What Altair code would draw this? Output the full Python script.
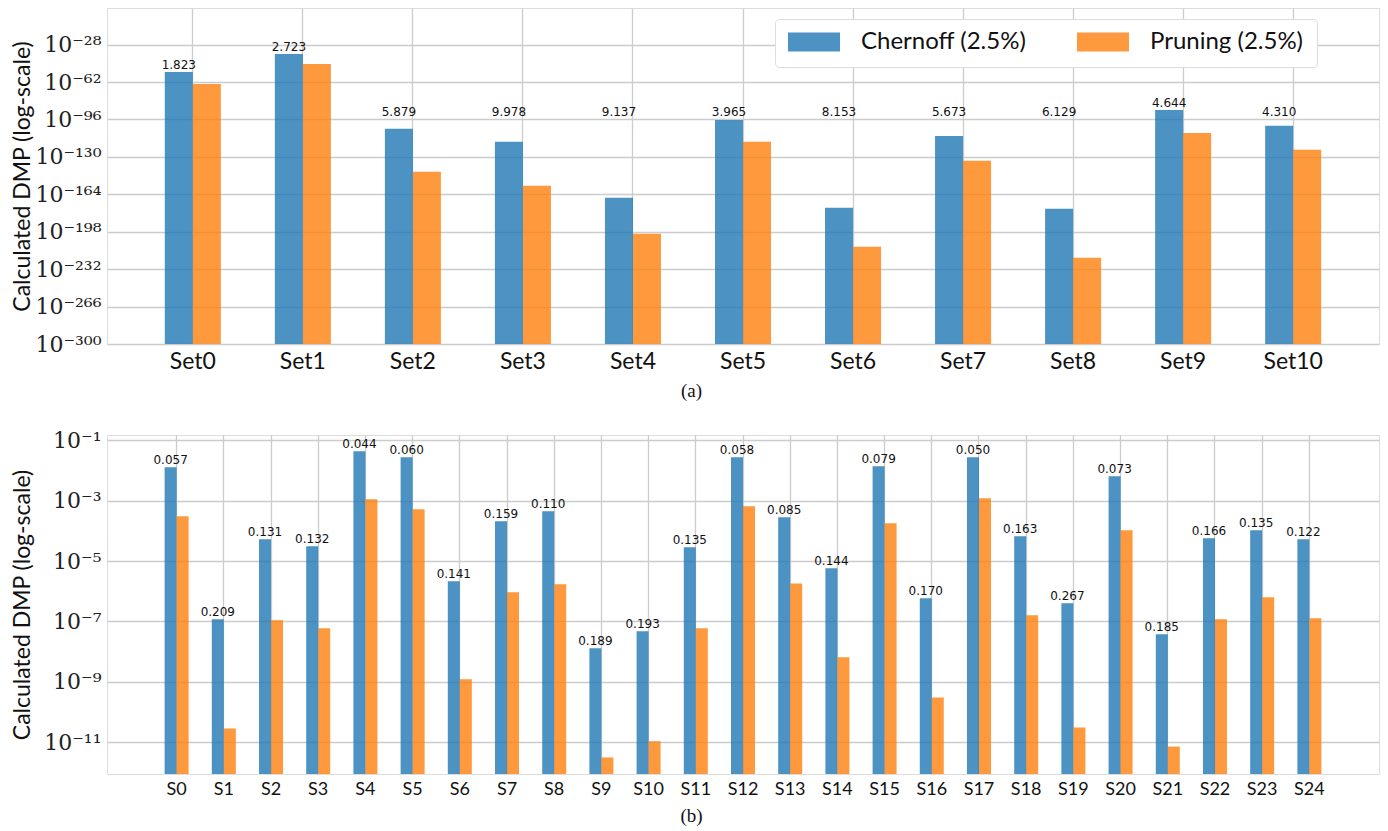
import altair as alt
import pandas as pd

# ---- panel (a): eleven test sets, DMP given as log10 values ----
sets_a = ["Set0", "Set1", "Set2", "Set3", "Set4", "Set5",
          "Set6", "Set7", "Set8", "Set9", "Set10"]
chernoff_a = [-52.8, -36.5, -104.5, -116.3, -167.2, -96.4,
              -176.3, -110.9, -177.2, -87.3, -101.8]
pruning_a = [-63.7, -45.5, -143.6, -156.3, -199.9, -116.3,
             -211.7, -133.6, -221.7, -108.2, -123.6]
ratio_a = ["1.823", "2.723", "5.879", "9.978", "9.137", "3.965",
           "8.153", "5.673", "6.129", "4.644", "4.310"]
ticks_a = [-300, -266, -232, -198, -164, -130, -96, -62, -28]

# ---- panel (b): twenty-five samples ----
sets_b = ["S0", "S1", "S2", "S3", "S4", "S5", "S6", "S7", "S8", "S9",
          "S10", "S11", "S12", "S13", "S14", "S15", "S16", "S17", "S18",
          "S19", "S20", "S21", "S22", "S23", "S24"]
chernoff_b = [-1.886, -6.93, -4.276, -4.508, -1.355, -1.554, -5.67, -3.68,
              -3.35, -7.89, -7.33, -4.54, -1.554, -3.55, -5.24, -1.853,
              -6.23, -1.554, -4.176, -6.40, -2.185, -7.43, -4.243, -3.977,
              -4.276]
pruning_b = [-3.512, -10.55, -6.96, -7.23, -2.948, -3.28, -8.92, -6.03,
             -5.77, -11.51, -10.97, -7.23, -3.18, -5.74, -8.19, -3.745,
             -9.52, -2.915, -6.80, -10.52, -3.977, -11.15, -6.93, -6.20,
             -6.90]
ratio_b = ["0.057", "0.209", "0.131", "0.132", "0.044", "0.060", "0.141",
           "0.159", "0.110", "0.189", "0.193", "0.135", "0.058", "0.085",
           "0.144", "0.079", "0.170", "0.050", "0.163", "0.267", "0.073",
           "0.185", "0.166", "0.135", "0.122"]
ticks_b = [-11, -9, -7, -5, -3, -1]

series = ["Chernoff (2.5%)", "Pruning (2.5%)"]
colors = ["#1f77b4", "#ff7f0e"]

SANS = "Lato"
SERIF = "DejaVu Serif"
GRID = "#cccccc"

SUP = str.maketrans("-0123456789", "\u207b\u2070\u00b9\u00b2\u00b3\u2074\u2075\u2076\u2077\u2078\u2079")


def power_label_expr(ticks):
    expr = "''"
    for t in reversed(ticks):
        expr = f"datum.value == {t} ? '10{str(t).translate(SUP)}' : ({expr})"
    return expr


def long_frame(cats, chern, prun, ratios):
    rows = []
    for c, v, r in zip(cats, chern, ratios):
        rows.append({"set": c, "series": series[0], "log_dmp": v, "ratio": r})
    for c, v in zip(cats, prun):
        rows.append({"set": c, "series": series[1], "log_dmp": v, "ratio": ""})
    return pd.DataFrame(rows)


def panel(df, cats, ticks, domain, width, height, outer, bar_outer,
          label_font, caption, caption_size, label_floor, show_legend):
    x = alt.X("set:N", sort=cats,
              scale=alt.Scale(domain=cats, paddingInner=0, paddingOuter=outer),
              axis=alt.Axis(labelAngle=0, labelFont=SANS, labelFontSize=label_font,
                            labelColor="#111", labelPadding=6,
                            domain=False, ticks=False, grid=True, bandPosition=0.5,
                            gridColor=GRID, gridWidth=1.3,
                            title=caption, titleFont="Liberation Serif",
                            titleFontSize=caption_size,
                            titleFontWeight="normal", titleColor="#111",
                            titleX=584, titleAlign="center", titlePadding=8))
    xo = alt.XOffset("series:N", sort=series,
                     scale=alt.Scale(domain=series, paddingInner=0, paddingOuter=bar_outer))
    y = alt.Y("log_dmp:Q",
              scale=alt.Scale(domain=domain, nice=False, zero=False),
              axis=alt.Axis(values=ticks, labelExpr=power_label_expr(ticks),
                            labelFont=SERIF, labelFontSize=22, labelColor="#222",
                            labelBaseline="middle", labelPadding=6,
                            domain=False, ticks=False, grid=True,
                            gridColor=GRID, gridWidth=1.3,
                            title="Calculated DMP (log-scale)", titleFont=SANS,
                            titleFontSize=23, titleFontWeight="normal",
                            titleColor="#111", titleAngle=270,
                            titleBaseline="middle", titleAlign="center",
                            titleX=-85, titleY=height / 2))
    legend = None
    if show_legend:
        legend = alt.Legend(title=None, orient="none", direction="horizontal",
                            legendX=668, legendY=11,
                            symbolType="M-1,-0.365L1,-0.365L1,0.365L-1,0.365Z",
                            symbolSize=2704, symbolStrokeWidth=0, symbolOpacity=0.8,
                            labelFont=SANS, labelFontSize=24, labelColor="#111",
                            labelLimit=400,
                            labelOffset=21, columnPadding=50, clipHeight=20,
                            padding=13, fillColor="white", strokeColor="#dddddd",
                            cornerRadius=4)
    color = alt.Color("series:N", sort=series,
                      scale=alt.Scale(domain=series, range=colors),
                      legend=legend)

    bars = alt.Chart(df).mark_bar(opacity=0.8).encode(
        x=x, xOffset=xo, y=y, y2=alt.datum(domain[0]), color=color
    )
    labels = alt.Chart(df).transform_filter(
        alt.datum.series == series[0]
    ).transform_calculate(
        label_y=f"max(datum.log_dmp, {label_floor})"
    ).mark_text(font="DejaVu Sans", fontSize=12, color="#111",
                baseline="alphabetic", dy=-3).encode(
        x=alt.X("set:N", sort=cats),
        xOffset=alt.XOffset("series:N", sort=series),
        y=alt.Y("label_y:Q"),
        text="ratio:N",
    )
    return alt.layer(bars, labels).properties(width=width, height=height)


df_a = long_frame(sets_a, chernoff_a, pruning_a, ratio_a)
df_b = long_frame(sets_b, chernoff_b, pruning_b, ratio_b)

top = panel(df_a, sets_a, ticks_a, [-300, 5.3], 1272, 336, 0.28, 0.964,
            23, "(a)", 19, -96, True)
bottom = panel(df_b, sets_b, ticks_b, [-12.06, -0.82], 1272, 339, 0.975, 0.967,
               18, "(b)", 19, -99, False)

chart = alt.vconcat(top, bottom, spacing=27).resolve_scale(
    x="independent", xOffset="independent", y="independent", color="shared"
).properties(
    padding={"top": 7, "left": 10, "right": 0, "bottom": 0}
).configure_view(strokeWidth=0).configure(background="white")

chart.save("out.html", embed_options={"renderer": "svg", "actions": False})
